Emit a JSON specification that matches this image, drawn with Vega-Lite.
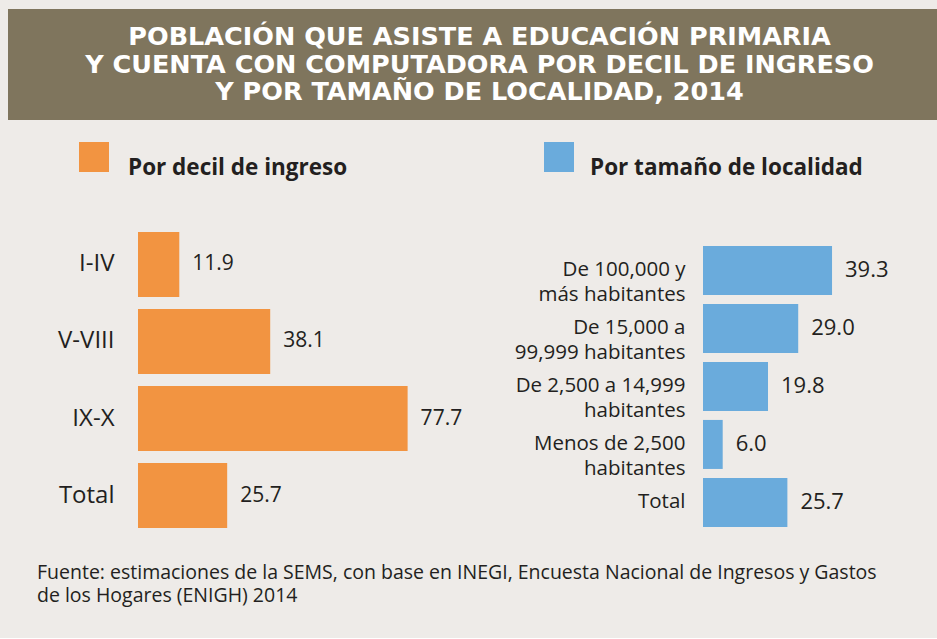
{
  "$schema": "https://vega.github.io/schema/vega-lite/v6.json",
  "background": "#eeebe8",
  "padding": {"left": 8, "top": 9, "right": 0, "bottom": 32},
  "config": {"font": "Open Sans", "view": {"stroke": null}},
  "title": {
    "text": ["Fuente: estimaciones de la SEMS, con base en INEGI, Encuesta Nacional de Ingresos y Gastos", "de los Hogares (ENIGH) 2014"],
    "orient": "bottom",
    "anchor": "start",
    "font": "Open Sans",
    "fontSize": 19.5,
    "fontWeight": "normal",
    "color": "#231f20",
    "lineHeight": 23,
    "offset": 36,
    "dx": 29
  },
  "spacing": 22,
  "resolve": {"scale": {"color": "independent"}, "legend": {"color": "independent"}},
  "vconcat": [
    {
      "width": 929,
      "height": 111,
      "view": {"fill": "#7f755d", "stroke": null},
      "data": {"values": [
        {"linea": 1, "texto": "POBLACIÓN QUE ASISTE A EDUCACIÓN PRIMARIA"},
        {"linea": 2, "texto": "Y CUENTA CON COMPUTADORA POR DECIL DE INGRESO"},
        {"linea": 3, "texto": "Y POR TAMAÑO DE LOCALIDAD, 2014"}
      ]},
      "mark": {"type": "text", "font": "DejaVu Sans", "fontSize": 25.5, "fontWeight": "bold", "color": "#ffffff", "baseline": "middle", "align": "center", "dx": 7, "dy": 0},
      "encoding": {
        "y": {"field": "linea", "type": "ordinal", "axis": null, "scale": {"type": "point", "padding": 1}},
        "text": {"field": "texto"}
      }
    },
    {
      "spacing": 0,
      "resolve": {"scale": {"color": "independent"}, "legend": {"color": "independent"}},
      "hconcat": [
        {
          "width": 477,
          "height": 296,
          "data": {"values": [
            {"decil": "I-IV", "pct": 11.9, "grupo": "Por decil de ingreso"},
            {"decil": "V-VIII", "pct": 38.1, "grupo": "Por decil de ingreso"},
            {"decil": "IX-X", "pct": 77.7, "grupo": "Por decil de ingreso"},
            {"decil": "Total", "pct": 25.7, "grupo": "Por decil de ingreso"}
          ]},
          "encoding": {
            "y": {"field": "decil", "type": "nominal", "sort": null,
              "scale": {"paddingInner": 0.156, "paddingOuter": 0},
              "axis": {"title": null, "domain": false, "ticks": false, "grid": false, "offset": -130, "labelFont": "Open Sans", "labelFontSize": 24, "labelColor": "#231f20", "labelPadding": 24, "labelLimit": 300}},
            "x": {"field": "pct", "type": "quantitative", "scale": {"domain": [0, 100], "range": [130, 477]}, "axis": null}
          },
          "layer": [
            {
              "mark": {"type": "bar"},
              "encoding": {
                "color": {"field": "grupo", "type": "nominal", "scale": {"range": ["#f29441"]},
                  "legend": {"title": null, "orient": "none", "legendX": 71, "legendY": -90, "symbolType": "square", "symbolSize": 900, "symbolStrokeWidth": 0, "symbolOpacity": 1, "labelFont": "Open Sans", "labelFontSize": 22.5, "labelFontWeight": "bold", "labelColor": "#231f20", "labelOffset": 19, "labelBaseline": "top", "padding": 0, "labelLimit": 400}}
              }
            },
            {
              "mark": {"type": "text", "align": "left", "baseline": "middle", "dx": 13, "font": "Open Sans", "fontSize": 21, "color": "#231f20"},
              "encoding": {"text": {"field": "pct", "type": "quantitative", "format": ".1f"}}
            }
          ]
        },
        {
          "width": 197,
          "height": 296,
          "data": {"values": [
            {"localidad": "De 100,000 y\nmás habitantes", "pct": 39.3, "grupo": "Por tamaño de localidad"},
            {"localidad": "De 15,000 a\n99,999 habitantes", "pct": 29.0, "grupo": "Por tamaño de localidad"},
            {"localidad": "De 2,500 a 14,999\nhabitantes", "pct": 19.8, "grupo": "Por tamaño de localidad"},
            {"localidad": "Menos de 2,500\nhabitantes", "pct": 6.0, "grupo": "Por tamaño de localidad"},
            {"localidad": "Total", "pct": 25.7, "grupo": "Por tamaño de localidad"}
          ]},
          "encoding": {
            "y": {"field": "localidad", "type": "nominal", "sort": null,
              "scale": {"paddingInner": 0.155, "paddingOuter": 0.129, "align": 0.93},
              "axis": {"title": null, "domain": false, "ticks": false, "grid": false, "labelExpr": "split(datum.label, '\\n')", "labelFont": "Open Sans", "labelFontSize": 20.5, "labelLineHeight": 25, "labelColor": "#231f20", "labelPadding": 18, "labelLimit": 300, "minExtent": 218, "maxExtent": 218}},
            "x": {"field": "pct", "type": "quantitative", "scale": {"domain": [0, 60]}, "axis": null}
          },
          "layer": [
            {
              "mark": {"type": "bar"},
              "encoding": {
                "color": {"field": "grupo", "type": "nominal", "scale": {"range": ["#6aabdc"]},
                  "legend": {"title": null, "orient": "none", "legendX": -159, "legendY": -90, "symbolType": "square", "symbolSize": 900, "symbolStrokeWidth": 0, "symbolOpacity": 1, "labelFont": "Open Sans", "labelFontSize": 22.5, "labelFontWeight": "bold", "labelColor": "#231f20", "labelOffset": 16, "labelBaseline": "top", "padding": 0, "labelLimit": 400}}
              }
            },
            {
              "mark": {"type": "text", "align": "left", "baseline": "middle", "dx": 13, "font": "Open Sans", "fontSize": 22, "color": "#231f20"},
              "encoding": {"text": {"field": "pct", "type": "quantitative", "format": ".1f"}}
            }
          ]
        }
      ]
    }
  ]
}
